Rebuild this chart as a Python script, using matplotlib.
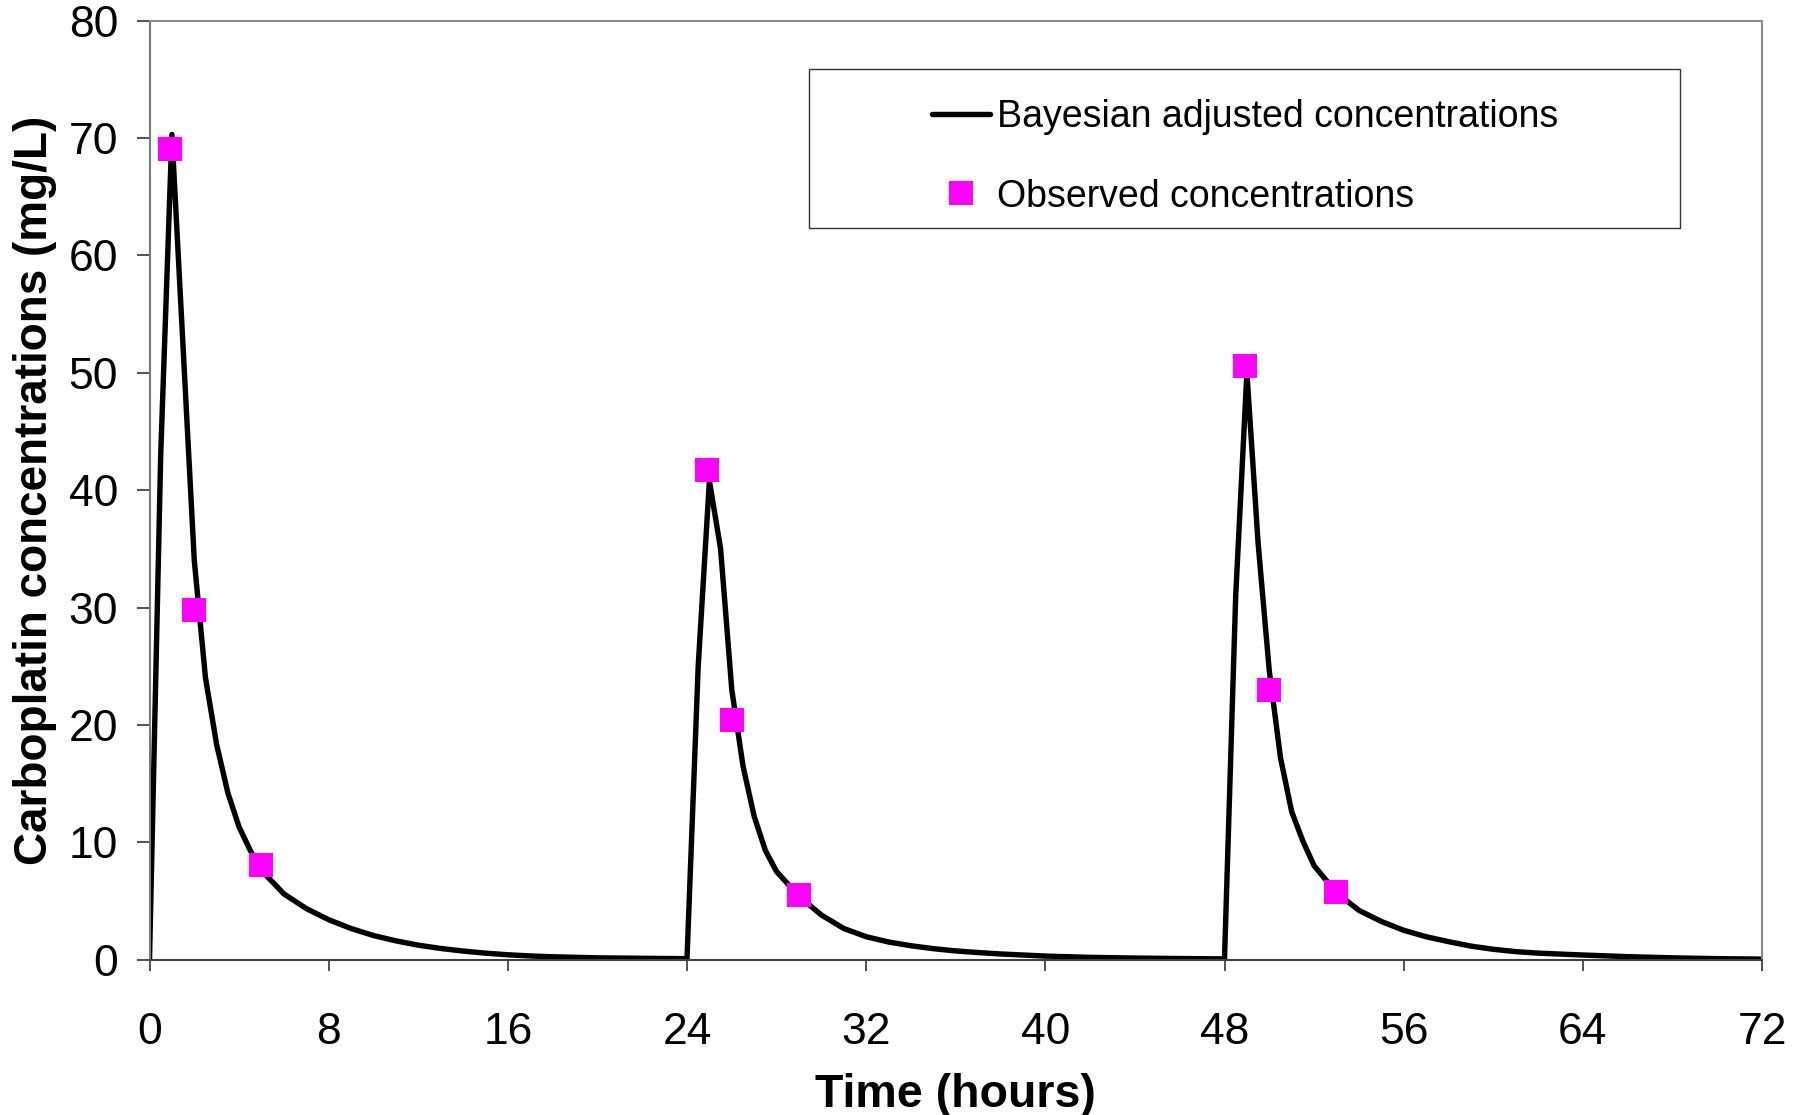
import matplotlib
matplotlib.use("Agg")
import matplotlib.pyplot as plt
import matplotlib.transforms as mtransforms
from matplotlib.patches import Rectangle
import numpy as np

# Bayesian-adjusted carboplatin profile, one block per daily infusion
dose1_time = [0, 0.5, 1, 2, 2.5, 3, 3.5, 4, 4.5, 5, 6, 7, 8, 9, 10, 11, 12,
              13, 14, 15, 16, 17, 18, 20, 22, 24]
dose1_conc = [0, 43, 70.3, 34, 24, 18.3, 14.2, 11.3, 9.3, 7.6, 5.6, 4.35, 3.4,
              2.65, 2.05, 1.6, 1.23, 0.95, 0.73, 0.55, 0.41, 0.31, 0.24, 0.15,
              0.11, 0.08]

dose2_time = [24.5, 25, 25.5, 26, 26.5, 27, 27.5, 28, 29, 30, 31, 32, 33, 34,
              35, 36, 37, 38, 40, 42, 44, 46, 48]
dose2_conc = [25, 40.8, 35, 23, 16.5, 12.2, 9.3, 7.5, 5.4, 3.8, 2.65, 1.95, 1.5,
              1.18, 0.93, 0.74, 0.6, 0.48, 0.3, 0.19, 0.13, 0.09, 0.06]

dose3_time = [48.5, 49, 49.5, 50, 50.5, 51, 51.5, 52, 53, 54, 55, 56, 57, 58,
              59, 60, 61, 62, 64, 66, 68, 70, 72]
dose3_conc = [31, 50, 35.5, 24.6, 17.2, 12.6, 10.1, 8.0, 5.7, 4.2, 3.25, 2.5,
              1.95, 1.53, 1.15, 0.88, 0.68, 0.55, 0.39, 0.25, 0.15, 0.08, 0.04]

# Measured plasma samples
obs_time = [0.9, 2.0, 5.0, 24.9, 26.0, 29.0, 48.9, 50.0, 53.0]
obs_conc = [69.1, 29.8, 8.1, 41.7, 20.4, 5.5, 50.6, 23.0, 5.8]

x_ticks = [0, 8, 16, 24, 32, 40, 48, 56, 64, 72]
y_ticks = [0, 10, 20, 30, 40, 50, 60, 70, 80]

model_time = np.concatenate([dose1_time, dose2_time, dose3_time])
model_conc = np.concatenate([dose1_conc, dose2_conc, dose3_conc])

plt.rcParams['font.family'] = ['Liberation Sans', 'DejaVu Sans']

W, H = 1804, 1115
fig = plt.figure(figsize=(W / 100, H / 100), dpi=100)
ax = fig.add_axes([149.5 / W, 1 - 959.6 / H, (1762 - 149.5) / W, (959.6 - 20.7) / H])

ax.plot(model_time, model_conc, color='black', lw=3.9, zorder=2,
        solid_joinstyle='round', solid_capstyle='round',
        label='Bayesian adjusted concentrations')
ax.plot(obs_time, obs_conc, linestyle='none', marker='s', markersize=17.5,
        markerfacecolor='#FF00FF', markeredgecolor='#FF00FF', markeredgewidth=0,
        zorder=3, label='Observed concentrations')

ax.set_xlim(0, 72)
ax.set_ylim(0, 80)
ax.set_xticks(x_ticks)
ax.set_yticks(y_ticks)
ax.tick_params(axis='y', direction='out', length=9.5, width=1.2, colors='#333333',
               labelsize=32, pad=13, labelcolor='black')
ax.tick_params(axis='x', direction='out', length=8, width=1.2, colors='#333333',
               labelsize=32, pad=30, labelcolor='black')

for side in ['top', 'right']:
    ax.spines[side].set_color('#8c8c8c')
    ax.spines[side].set_linewidth(1.5)
ax.spines['left'].set_color('#7a7a7a')
ax.spines['left'].set_linewidth(1.5)
ax.spines['bottom'].set_color('#404040')
ax.spines['bottom'].set_linewidth(1.5)

ax.set_xlabel('Time (hours)', fontsize=33.5, fontweight='bold', labelpad=14)
ax.set_ylabel('Carboplatin concentrations (mg/L)', fontsize=33, fontweight='bold')
ax.yaxis.set_label_coords(57 / W, 0.5)
ax.yaxis.label.set_transform(
    mtransforms.blended_transform_factory(fig.transFigure, ax.transAxes))

# Legend box and entries
fig.patches.append(Rectangle((808.8 / W, 1 - 227.8 / H), 870.9 / W, 158.8 / H,
                             transform=fig.transFigure, fill=False,
                             edgecolor='#333333', linewidth=1.0, zorder=5))
leg = ax.legend(loc='center', bbox_to_anchor=(1245 / W, 1 - 157 / H),
                bbox_transform=fig.transFigure, frameon=False, fontsize=27,
                handlelength=1.55, handletextpad=0.18, labelspacing=1.15,
                borderpad=0.0)
leg.set_zorder(6)

fig.savefig('out.png', dpi=100)
